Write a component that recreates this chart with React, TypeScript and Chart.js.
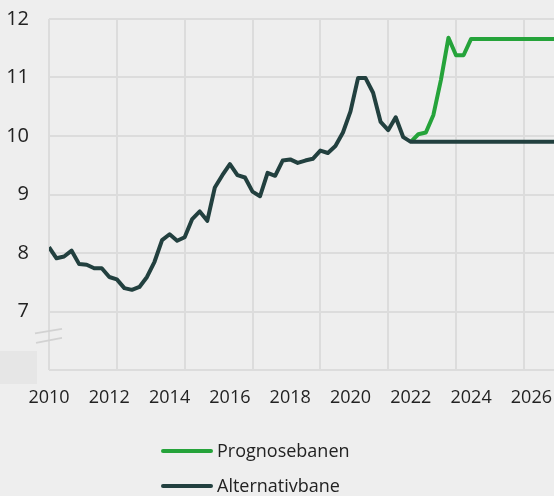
import React, { useEffect, useRef } from 'react';
import { Chart, registerables } from 'chart.js';

Chart.register(...registerables);

// ---- Data (quarterly, first point = 2010 Q1) ----
const START_YEAR = 2010;
const QUARTERS_PER_YEAR = 4;

const alternativbane: number[] = [
  8.10, 7.91, 7.94, 8.04, // 2010
  7.81, 7.80, 7.74, 7.74, // 2011
  7.59, 7.55, 7.40, 7.37, // 2012
  7.42, 7.59, 7.85, 8.22, // 2013
  8.32, 8.21, 8.27, 8.58, // 2014
  8.71, 8.55, 9.12, 9.33, // 2015
  9.52, 9.33, 9.29, 9.05, // 2016
  8.97, 9.37, 9.32, 9.58, // 2017
  9.60, 9.54, 9.58, 9.61, // 2018
  9.75, 9.71, 9.83, 10.06, // 2019
  10.42, 10.99, 10.99, 10.74, // 2020
  10.24, 10.10, 10.32, 9.98, // 2021
  9.90, 9.90, 9.90, 9.90, // 2022
  9.90, 9.90, 9.90, 9.90, // 2023
  9.90, 9.90, 9.90, 9.90, // 2024
  9.90, 9.90, 9.90, 9.90, // 2025
  9.90, 9.90, 9.90, 9.90, // 2026
];

const PROGNOSE_START_YEAR = 2022;
const prognosebanen: number[] = [
  9.90, 10.03, 10.06, 10.36, // 2022
  10.96, 11.68, 11.38, 11.38, // 2023
  11.66, 11.66, 11.66, 11.66, // 2024
  11.66, 11.66, 11.66, 11.66, // 2025
  11.66, 11.66, 11.66, 11.66, // 2026
];

const seriesNames = ['Prognosebanen', 'Alternativbane'];
const yMin = 6;
const yMax = 12;
const yStep = 1;
const hiddenYTicks = [6];
const xLabelStepQuarters = 8; // a label every 2 years
const xGridStepQuarters = 9; // grid lines every 9 quarters

// ---- Styles ----
const BG = '#eeeeee';
const GRID = '#dcdcdc';
const TEXT = '#222222';
const GREEN = '#25a33a';
const DARK = '#22403f';
const FONT = "'Open Sans', sans-serif";

const lastIndex = alternativbane.length - 1;
const progOffset = (PROGNOSE_START_YEAR - START_YEAR) * QUARTERS_PER_YEAR;

const altPoints = alternativbane.map((v, i) => ({ x: i, y: v }));
const progPoints = prognosebanen.map((v, i) => ({ x: i + progOffset, y: v }));

const decorPlugin = {
  id: 'decor',
  beforeDraw(chart: any) {
    const { ctx, chartArea } = chart;
    ctx.save();
    ctx.fillStyle = '#e6e6e6';
    ctx.fillRect(0, chartArea.bottom - 19, chartArea.left - 12, 33);
    ctx.restore();
  },
  afterDraw(chart: any) {
    const { ctx, chartArea, scales } = chart;
    const y = scales.y.getPixelForValue(6.6);
    const l = chartArea.left;
    ctx.save();
    ctx.strokeStyle = '#d2d2d2';
    ctx.lineWidth = 1.6;
    ctx.beginPath();
    ctx.moveTo(l - 14, y - 1.5);
    ctx.lineTo(l + 13, y - 6);
    ctx.moveTo(l - 13, y + 8);
    ctx.lineTo(l + 13, y + 3);
    ctx.stroke();
    ctx.restore();
  },
};

export default function App() {
  const ref = useRef<HTMLCanvasElement>(null);

  useEffect(() => {
    document.body.style.margin = '0';
    document.body.style.background = BG;
    const chart = new Chart(ref.current as HTMLCanvasElement, {
      type: 'line',
      data: {
        datasets: [
          {
            label: seriesNames[1],
            data: altPoints,
            borderColor: DARK,
            backgroundColor: DARK,
            borderWidth: 4,
            pointRadius: 0,
            tension: 0,
            borderJoinStyle: 'round',
            xAxisID: 'x',
            yAxisID: 'y',
            order: 0,
          },
          {
            label: seriesNames[0],
            data: progPoints,
            borderColor: GREEN,
            backgroundColor: GREEN,
            borderWidth: 4,
            pointRadius: 0,
            tension: 0,
            borderJoinStyle: 'round',
            xAxisID: 'x',
            yAxisID: 'y',
            order: 1,
          },
        ],
      },
      options: {
        animation: false,
        responsive: false,
        maintainAspectRatio: false,
        layout: { padding: { top: 19, bottom: 86, left: 0, right: 0 } },
        plugins: {
          legend: { display: false },
          tooltip: { enabled: false },
        },
        scales: {
          xg: {
            type: 'linear',
            axis: 'x',
            position: 'bottom',
            min: 0,
            max: lastIndex,
            ticks: { display: false, stepSize: xGridStepQuarters, includeBounds: false },
            grid: { color: GRID, lineWidth: 2, drawTicks: false },
            border: { display: false },
            afterFit: (s: any) => {
              s.height = 0;
              s.paddingLeft = 0;
              s.paddingRight = 0;
            },
          },
          x: {
            type: 'linear',
            position: 'bottom',
            min: 0,
            max: lastIndex,
            ticks: {
              stepSize: xLabelStepQuarters,
              includeBounds: false,
              autoSkip: false,
              maxRotation: 0,
              padding: 17,
              color: TEXT,
              font: { family: FONT, size: 18 },
              callback: (v: any) => String(START_YEAR + Number(v) / QUARTERS_PER_YEAR),
            },
            grid: { display: false, drawTicks: false },
            border: { display: false },
            afterFit: (s: any) => {
              s.height = 40;
              s.paddingLeft = 0;
              s.paddingRight = 0;
            },
          },
          y: {
            type: 'linear',
            min: yMin,
            max: yMax,
            ticks: {
              stepSize: yStep,
              padding: 20,
              color: TEXT,
              font: { family: FONT, size: 20 },
              callback: (v: any) => (hiddenYTicks.includes(Number(v)) ? '' : String(v)),
            },
            grid: { color: GRID, lineWidth: 2, drawTicks: false },
            border: { display: false },
            afterFit: (s: any) => {
              s.width = 49;
              s.paddingTop = 0;
              s.paddingBottom = 0;
            },
          },
        },
      } as any,
      plugins: [decorPlugin],
    });
    return () => chart.destroy();
  }, []);

  const legendItems = [
    { name: seriesNames[0], color: GREEN, top: 451 },
    { name: seriesNames[1], color: DARK, top: 486 },
  ];

  return (
    <div style={{ position: 'relative', width: 554, height: 496, overflow: 'hidden', background: BG }}>
      <canvas ref={ref} width={554} height={496} style={{ position: 'absolute', left: 0, top: 0 }} />
      {legendItems.map((it) => (
        <div key={it.name}>
          <div
            style={{
              position: 'absolute',
              left: 161,
              top: it.top - 2,
              width: 52,
              height: 4,
              borderRadius: 2,
              background: it.color,
            }}
          />
          <div
            style={{
              position: 'absolute',
              left: 217,
              top: it.top - 13.3,
              fontFamily: FONT,
              fontSize: 18,
              lineHeight: '24px',
              color: TEXT,
              whiteSpace: 'nowrap',
            }}
          >
            {it.name}
          </div>
        </div>
      ))}
    </div>
  );
}
